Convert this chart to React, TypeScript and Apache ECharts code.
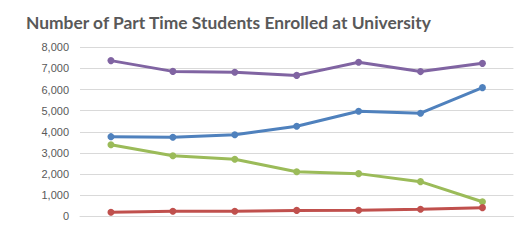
import React, { useEffect, useRef } from "react";
import * as echarts from "echarts";

const title = "Number of Part Time Students Enrolled at University";
const categories = ["1", "2", "3", "4", "5", "6", "7"];
const purpleValues = [7370, 6860, 6820, 6670, 7290, 6850, 7240];
const blueValues = [3770, 3740, 3860, 4260, 4970, 4880, 6090];
const greenValues = [3390, 2870, 2700, 2110, 2020, 1640, 690];
const redValues = [190, 240, 240, 280, 290, 330, 410];
const yTicks = { min: 0, max: 8000, interval: 1000 };

const seriesDefs = [
  { name: "Series 4", data: purpleValues, color: "#8064A2" },
  { name: "Series 1", data: blueValues, color: "#4F81BD" },
  { name: "Series 3", data: greenValues, color: "#9BBB59" },
  { name: "Series 2", data: redValues, color: "#C0504D" },
];

export default function App() {
  const ref = useRef<HTMLDivElement>(null);
  useEffect(() => {
    if (!ref.current) return;
    const chart = echarts.init(ref.current, undefined, { renderer: "svg" });
    chart.setOption({
      animation: false,
      backgroundColor: "#ffffff",
      title: {
        text: title,
        left: 21,
        top: 9,
        textStyle: {
          fontFamily: "Lato",
          fontWeight: "bold",
          fontSize: 17.4,
          color: "#595959",
        },
      },
      grid: { left: 80, right: 11.6, top: 47.3, bottom: 33.7, containLabel: false },
      xAxis: {
        type: "category",
        data: categories,
        boundaryGap: true,
        axisLine: { show: true, lineStyle: { color: "#D9D9D9", width: 1 } },
        axisTick: { show: false },
        axisLabel: { show: false },
      },
      yAxis: {
        type: "value",
        min: yTicks.min,
        max: yTicks.max,
        interval: yTicks.interval,
        axisLine: { show: false },
        axisTick: { show: false },
        splitLine: { lineStyle: { color: "#D9D9D9", width: 1 } },
        axisLabel: {
          margin: 11,
          fontFamily: "Liberation Sans",
          fontSize: 11,
          color: "#595959",
          formatter: (v: number) => v.toLocaleString("en-US"),
        },
      },
      series: seriesDefs.map((s) => ({
        name: s.name,
        type: "line",
        data: s.data,
        symbol: "circle",
        symbolSize: 7,
        color: s.color,
        lineStyle: { width: 3, color: s.color },
        itemStyle: { color: s.color },
      })),
    });
    return () => chart.dispose();
  }, []);
  return <div ref={ref} style={{ width: 525, height: 250, position: "absolute", left: 0, top: 0 }} />;
}
